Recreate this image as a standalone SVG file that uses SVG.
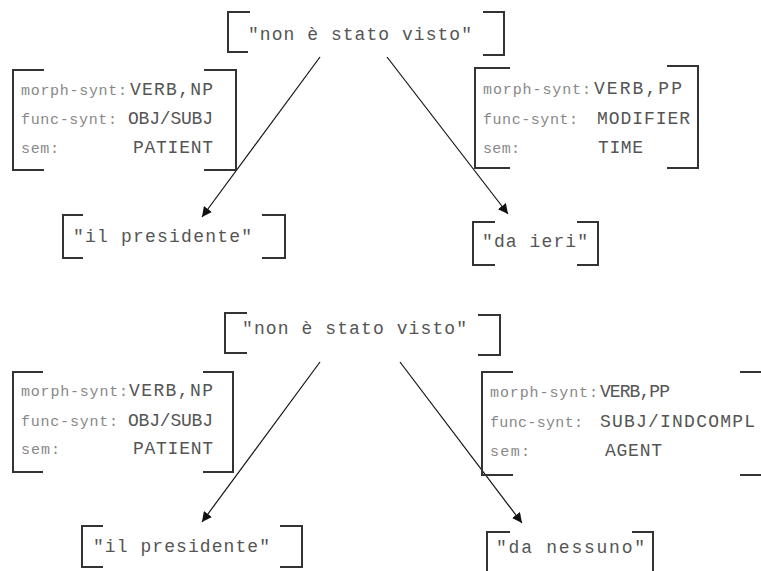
<svg xmlns="http://www.w3.org/2000/svg" width="761" height="571" viewBox="0 0 761 571">
<style>
.br{fill:none;stroke:#333;stroke-width:2}
.v{font-family:"Liberation Mono","Courier New",monospace;font-size:18px;fill:#555}
.l{font-family:"Liberation Mono","Courier New",monospace;font-size:15px;fill:#888}
.q{font-family:"Liberation Mono","Courier New",monospace;font-size:18px;fill:#555}
.c{stroke:#111;stroke-width:1.2;fill:none}
</style>
<defs>
<marker id="ah" viewBox="0 0 10 10" refX="10" refY="5" markerWidth="10" markerHeight="10" markerUnits="userSpaceOnUse" orient="auto">
<path d="M0,0 L10,5 L0,10 z" fill="#111"/>
</marker>
</defs>
<rect width="761" height="571" fill="#fff"/>
<g id="connectors">
<line class="c" x1="320" y1="57" x2="202" y2="217" marker-end="url(#ah)"/>
<line class="c" x1="387" y1="57" x2="508" y2="214" marker-end="url(#ah)"/>
<line class="c" x1="320" y1="362" x2="202" y2="522" marker-end="url(#ah)"/>
<line class="c" x1="400" y1="362" x2="522" y2="523" marker-end="url(#ah)"/>
</g>
<g id="n1">
<path class="br" d="M250,12 H228 V52 H248"/>
<path class="br" d="M483,12 H504 V55 H483"/>
<text class="q" x="248" y="40" textLength="224" lengthAdjust="spacing">"non è stato visto"</text>
</g>
<g id="box1left">
<path class="br" d="M44,70 H13 V170 H44"/>
<path class="br" d="M204,70 H236 V170 H204"/>
<text class="l" x="21" y="95" textLength="106" lengthAdjust="spacing">morph-synt:</text>
<text class="v" x="130" y="95" textLength="83" lengthAdjust="spacing">VERB,NP</text>
<text class="l" x="21" y="124" textLength="96" lengthAdjust="spacing">func-synt:</text>
<text class="v" x="128" y="124" textLength="85" lengthAdjust="spacing">OBJ/SUBJ</text>
<text class="l" x="21" y="153" textLength="38" lengthAdjust="spacing">sem:</text>
<text class="v" x="133" y="153" textLength="80" lengthAdjust="spacing">PATIENT</text>
</g>
<g id="box1right">
<path class="br" d="M510,68 H475 V168 H510"/>
<path class="br" d="M667,66 H698 V168 H667"/>
<text class="l" x="483" y="94" textLength="108" lengthAdjust="spacing">morph-synt:</text>
<text class="v" x="594" y="94" textLength="88" lengthAdjust="spacing">VERB,PP</text>
<text class="l" x="483" y="124" textLength="95" lengthAdjust="spacing">func-synt:</text>
<text class="v" x="597" y="124" textLength="93" lengthAdjust="spacing">MODIFIER</text>
<text class="l" x="483" y="153" textLength="37" lengthAdjust="spacing">sem:</text>
<text class="v" x="598" y="153" textLength="45" lengthAdjust="spacing">TIME</text>
</g>
<g id="pres1">
<path class="br" d="M83,215 H63 V258 H83"/>
<path class="br" d="M262,215 H285 V258 H262"/>
<text class="q" x="73" y="242" textLength="179" lengthAdjust="spacing">"il presidente"</text>
</g>
<g id="ieri">
<path class="br" d="M495,222 H473 V265 H495"/>
<path class="br" d="M577,222 H598 V265 H577"/>
<text class="q" x="482" y="247" textLength="106" lengthAdjust="spacing">"da ieri"</text>
</g>
<g id="n2">
<path class="br" d="M247,313 H225 V353 H247"/>
<path class="br" d="M478,315 H500 V355 H478"/>
<text class="q" x="242" y="334" textLength="225" lengthAdjust="spacing">"non è stato visto"</text>
</g>
<g id="box2left">
<path class="br" d="M43,372 H13 V472 H43"/>
<path class="br" d="M203,372 H233 V472 H203"/>
<text class="l" x="21" y="396" textLength="107" lengthAdjust="spacing">morph-synt:</text>
<text class="v" x="129" y="396" textLength="84" lengthAdjust="spacing">VERB,NP</text>
<text class="l" x="21" y="426" textLength="97" lengthAdjust="spacing">func-synt:</text>
<text class="v" x="128" y="426" textLength="85" lengthAdjust="spacing">OBJ/SUBJ</text>
<text class="l" x="21" y="454" textLength="39" lengthAdjust="spacing">sem:</text>
<text class="v" x="133" y="454" textLength="80" lengthAdjust="spacing">PATIENT</text>
</g>
<g id="box2right">
<path class="br" d="M513,372 H482 V475 H513"/>
<path class="br" d="M740,372 H765 V475 H740"/>
<text class="l" x="490" y="397" textLength="108" lengthAdjust="spacing">morph-synt:</text>
<text class="v" x="600" y="397" textLength="70" lengthAdjust="spacing">VERB,PP</text>
<text class="l" x="490" y="427" textLength="93" lengthAdjust="spacing">func-synt:</text>
<text class="v" x="600" y="427" textLength="155" lengthAdjust="spacing">SUBJ/INDCOMPL</text>
<text class="l" x="490" y="456" textLength="40" lengthAdjust="spacing">sem:</text>
<text class="v" x="605" y="456" textLength="57" lengthAdjust="spacing">AGENT</text>
</g>
<g id="pres2">
<path class="br" d="M103,526 H82 V567 H103"/>
<path class="br" d="M280,526 H302 V567 H280"/>
<text class="q" x="93" y="552" textLength="177" lengthAdjust="spacing">"il presidente"</text>
</g>
<g id="nessuno">
<path class="br" d="M510,532 H487 V575"/>
<path class="br" d="M632,532 H653 V575"/>
<text class="q" x="496" y="553" textLength="149" lengthAdjust="spacing">"da nessuno"</text>
</g>
</svg>
